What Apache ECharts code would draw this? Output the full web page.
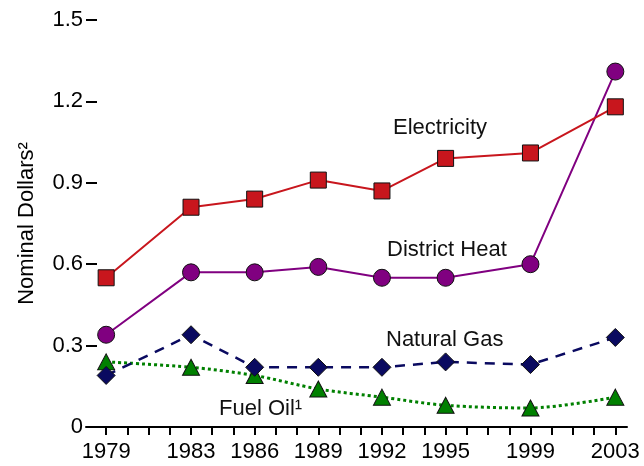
<!DOCTYPE html>
<html>
<head>
<meta charset="utf-8">
<script src="https://cdn.jsdelivr.net/npm/echarts@6/dist/echarts.min.js"></script>
<style>
  html, body { margin: 0; padding: 0; background: #fff; }
  #main { width: 644px; height: 466px; }
</style>
</head>
<body>
<div id="main"></div>
<script>
// years on a value axis, so 3- and 4-year gaps keep their spacing
const years = [1979, 1983, 1986, 1989, 1992, 1995, 1999, 2003];
const electricity = [0.55, 0.81, 0.84, 0.91, 0.87, 0.99, 1.01, 1.18];
const districtHeat = [0.34, 0.57, 0.57, 0.59, 0.55, 0.55, 0.60, 1.31];
const naturalGas = [0.19, 0.34, 0.22, 0.22, 0.22, 0.24, 0.23, 0.33];
const fuelOil = [0.24, 0.22, 0.19, 0.14, 0.11, 0.08, 0.07, 0.11];
const yearTicks = [];
for (let y = 1979; y <= 2003; y++) yearTicks.push(y);

const FONT = "Liberation Sans";

function pairs(vals) {
  return years.map((y, i) => [y, vals[i]]);
}

function lineSeries(name, vals, color, symbol, size, lineStyle, smooth) {
  return {
    name: name,
    type: "line",
    data: pairs(vals),
    symbol: symbol,
    symbolSize: size,
    smooth: smooth || false,
    showAllSymbol: true,
    itemStyle: { color: color, borderColor: "#111", borderWidth: 1 },
    lineStyle: Object.assign({ color: color }, lineStyle),
    emphasis: { disabled: true },
    z: 3,
  };
}

const chart = echarts.init(document.getElementById("main"), null, { renderer: "canvas" });

const option = {
  animation: false,
  textStyle: { fontFamily: FONT },
  grid: { left: 86, right: 17, top: 20, bottom: 39, containLabel: false },
  xAxis: {
    type: "value",
    min: 1978.05,
    max: 2003.55,
    axisLine: { show: true, lineStyle: { color: "#000", width: 2 } },
    axisTick: {
      show: true,
      customValues: yearTicks,
      length: 8,
      lineStyle: { color: "#000", width: 2 },
    },
    axisLabel: {
      customValues: years,
      formatter: (v) => String(v),
      color: "#000",
      fontSize: 22,
      fontFamily: FONT,
      margin: 14,
    },
    splitLine: { show: false },
  },
  yAxis: {
    type: "value",
    min: 0,
    max: 1.5,
    interval: 0.3,
    name: "Nominal Dollars²",
    nameLocation: "middle",
    nameGap: 48,
    nameTextStyle: { color: "#000", fontSize: 22, fontFamily: FONT },
    axisLine: { show: false },
    axisTick: {
      show: true,
      inside: true,
      length: 11,
      lineStyle: { color: "#000", width: 2 },
    },
    axisLabel: {
      color: "#000",
      fontSize: 22,
      fontFamily: FONT,
      margin: 3,
    },
    splitLine: { show: false },
  },
  series: [
    lineSeries("Fuel Oil", fuelOil, "#008000", "triangle", [17, 16],
      { width: 3, type: [3, 3] }, 0.3),
    lineSeries("Natural Gas", naturalGas, "#0a0a60", "diamond", [18, 18],
      { width: 2.5, type: [10, 8] }),
    lineSeries("District Heat", districtHeat, "#800080", "circle", 17,
      { width: 2 }),
    lineSeries("Electricity", electricity, "#c8161d", "rect", 16,
      { width: 2 }),
  ],
  graphic: [
    { type: "text", left: 393, top: 117, style: { text: "Electricity", font: "22px " + FONT, fill: "#111" } },
    { type: "text", left: 387, top: 239, style: { text: "District Heat", font: "22px " + FONT, fill: "#111" } },
    { type: "text", left: 386, top: 329, style: { text: "Natural Gas", font: "22px " + FONT, fill: "#111" } },
    { type: "text", left: 219, top: 398, style: { text: "Fuel Oil¹", font: "22px " + FONT, fill: "#111" } },
  ],
};

chart.setOption(option);
</script>
</body>
</html>
